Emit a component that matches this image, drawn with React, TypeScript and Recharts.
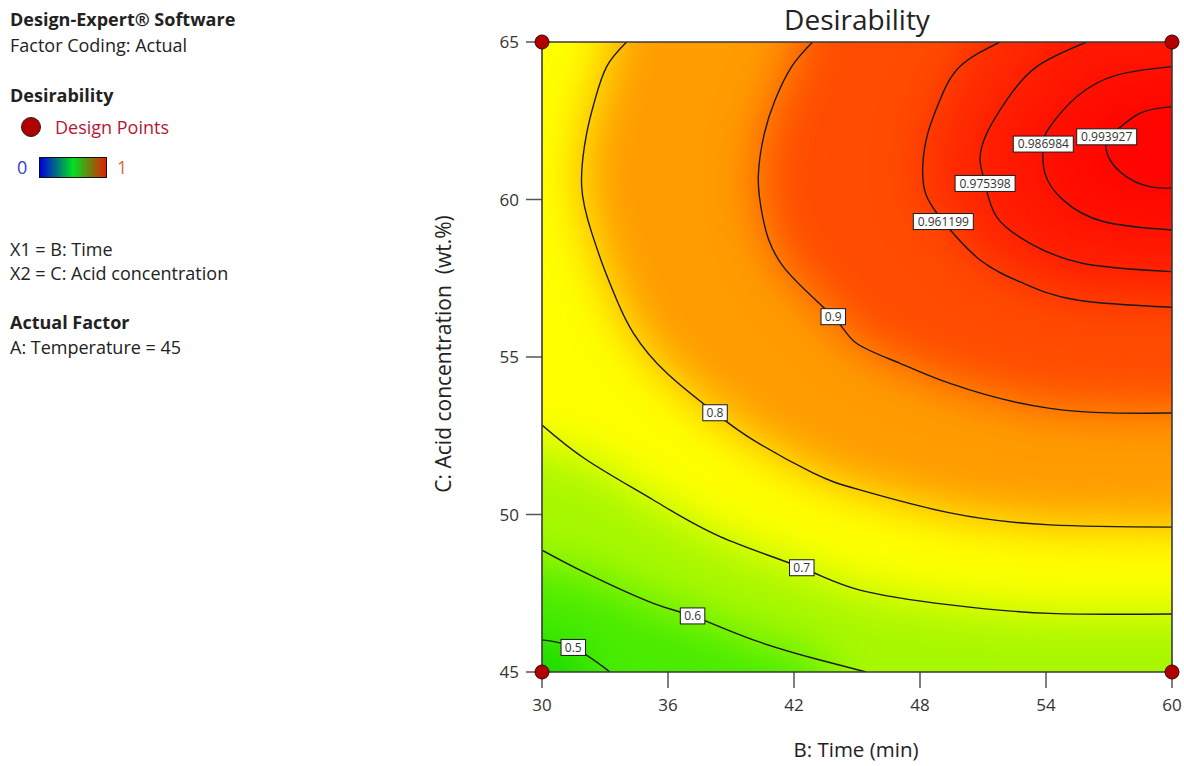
import React from "react";
import { ComposedChart, Scatter, XAxis, YAxis, Curve } from "recharts";

type Pt = { x: number; y: number };

const FONT = "'Open Sans', 'Noto Sans', sans-serif";

// B: Time (min) and C: Acid concentration (wt.%)
const timeTicks = [30, 36, 42, 48, 54, 60];
const acidTicks = [45, 50, 55, 60, 65];

const designPoints: Pt[] = [
  { x: 30, y: 45 },
  { x: 30, y: 65 },
  { x: 60, y: 45 },
  { x: 60, y: 65 },
];

const contourLevels = [0.5, 0.6, 0.7, 0.8, 0.9, 0.961199, 0.975398, 0.986984, 0.993927];

// traced contour lines of desirability (time, acid)
const c050: Pt[] = [
  { x: 30, y: 46.02 }, { x: 31.49, y: 45.78 }, { x: 33.24, y: 45 },
];
const c060: Pt[] = [
  { x: 30, y: 48.87 }, { x: 32.13, y: 48.13 }, { x: 35.3, y: 47.18 }, { x: 37.17, y: 46.78 },
  { x: 40.06, y: 46.02 }, { x: 43.24, y: 45.38 }, { x: 45.43, y: 45 },
];
const c070: Pt[] = [
  { x: 30, y: 52.84 }, { x: 32.13, y: 51.73 }, { x: 35.3, y: 50.46 }, { x: 38.48, y: 49.3 },
  { x: 42.37, y: 48.31 }, { x: 45.14, y: 47.6 }, { x: 49.43, y: 47.13 }, { x: 54.19, y: 46.86 },
  { x: 60, y: 46.84 },
];
const c080: Pt[] = [
  { x: 34.03, y: 65 }, { x: 33.08, y: 64.22 }, { x: 32.52, y: 63.16 }, { x: 32.13, y: 62.11 },
  { x: 31.89, y: 60.41 }, { x: 32.37, y: 58.94 }, { x: 32.92, y: 57.87 }, { x: 33.56, y: 56.81 },
  { x: 34.35, y: 55.76 }, { x: 35.94, y: 54.49 }, { x: 38.24, y: 53.23 }, { x: 40.05, y: 52.37 },
  { x: 42.9, y: 51.32 }, { x: 45.14, y: 50.78 }, { x: 49.43, y: 50.05 }, { x: 54.19, y: 49.67 },
  { x: 60, y: 49.6 },
];
const c090: Pt[] = [
  { x: 42.89, y: 65 }, { x: 41.89, y: 64.22 }, { x: 41.1, y: 63.16 }, { x: 40.59, y: 62.1 },
  { x: 40.3, y: 60.72 }, { x: 40.51, y: 59.45 }, { x: 41.49, y: 57.87 }, { x: 43.87, y: 56.28 },
  { x: 44.99, y: 55.43 }, { x: 47.05, y: 54.8 }, { x: 49.43, y: 54.16 }, { x: 54.19, y: 53.37 },
  { x: 60, y: 53.22 },
];
const c0961: Pt[] = [
  { x: 51.81, y: 65 }, { x: 49.9, y: 64.22 }, { x: 48.95, y: 63.16 }, { x: 48.37, y: 62.1 },
  { x: 48.13, y: 61.04 }, { x: 48.29, y: 60.14 }, { x: 49.11, y: 59.3 }, { x: 50.86, y: 58.08 },
  { x: 52.92, y: 57.34 }, { x: 55.46, y: 56.81 }, { x: 60, y: 56.58 },
];
const c0975: Pt[] = [
  { x: 55.94, y: 65 }, { x: 53.56, y: 64.22 }, { x: 52.13, y: 63.16 }, { x: 51.18, y: 62.1 },
  { x: 50.86, y: 61.25 }, { x: 51.1, y: 60.51 }, { x: 51.65, y: 59.45 }, { x: 53.24, y: 58.61 },
  { x: 55.78, y: 57.97 }, { x: 60, y: 57.71 },
];
const c0987: Pt[] = [
  { x: 60, y: 64.22 }, { x: 57.37, y: 63.95 }, { x: 55.46, y: 63.26 }, { x: 54.19, y: 62.31 },
  { x: 53.87, y: 61.76 }, { x: 53.95, y: 60.83 }, { x: 54.82, y: 59.98 }, { x: 56.73, y: 59.3 },
  { x: 60, y: 59.03 },
];
const c0994: Pt[] = [
  { x: 60, y: 62.95 }, { x: 58.48, y: 62.74 }, { x: 57.37, y: 62.21 }, { x: 56.89, y: 61.99 },
  { x: 56.97, y: 61.36 }, { x: 57.84, y: 60.72 }, { x: 58.95, y: 60.41 }, { x: 60, y: 60.36 },
];

// where each level's value tag sits on its line
const labelSpots: Pt[] = [
  { x: 31.49, y: 45.78 }, { x: 37.17, y: 46.78 }, { x: 42.37, y: 48.31 }, { x: 38.24, y: 53.23 },
  { x: 43.87, y: 56.28 }, { x: 49.11, y: 59.3 }, { x: 51.1, y: 60.51 }, { x: 53.87, y: 61.76 },
  { x: 56.89, y: 61.99 },
];

const contourPaths = [c050, c060, c070, c080, c090, c0961, c0975, c0987, c0994];

// plot corners used to close each "above level" region
const cornerTail: Pt[][] = [
  [{ x: 60, y: 45 }, { x: 60, y: 65 }, { x: 30, y: 65 }],
  [{ x: 60, y: 45 }, { x: 60, y: 65 }, { x: 30, y: 65 }],
  [{ x: 60, y: 65 }, { x: 30, y: 65 }],
  [{ x: 60, y: 65 }],
  [{ x: 60, y: 65 }],
  [{ x: 60, y: 65 }],
  [{ x: 60, y: 65 }],
  [],
  [],
];
const fullPlot: Pt[] = [{ x: 30, y: 45 }, { x: 60, y: 45 }, { x: 60, y: 65 }, { x: 30, y: 65 }];

const bandColors = [
  "#14d800", "#4aec00", "#a8f800", "#ffff00", "#ff9c00",
  "#ff4c00", "#ff2a00", "#ff1800", "#ff0a00", "#ff0200",
];

const regions: Pt[][] = [fullPlot, ...contourPaths.map((p, i) => [...p, ...cornerTail[i]])];

const labelData = contourLevels.map((lv, i) => ({ ...labelSpots[i], text: String(lv) }));

const EDGE = 90;
const None = () => <g />;

// filled region, pushed past the plot edge so the blur keeps full colour at the border
const softRegion = (pts: Pt[], color: string) => (props: any) => {
  const moved = (props.points || []).map((p: Pt, i: number) => {
    const d = pts[i];
    return {
      x: p.x + (d.x === 30 ? -EDGE : d.x === 60 ? EDGE : 0),
      y: p.y + (d.y === 65 ? -EDGE : d.y === 45 ? EDGE : 0),
    };
  });
  return (
    <g filter="url(#bandSoft)">
      <Curve points={moved} type="linear" fill={color} stroke="none" />
    </g>
  );
};

const LevelTag = (props: any) => {
  const { cx, cy, payload } = props;
  const t: string = payload.text;
  const digits = t.replace(".", "").length;
  const w = digits * 7.1 + 3.3 + 7;
  return (
    <g>
      <rect x={cx - w / 2} y={cy - 8} width={w} height={16} fill="#fff" stroke="#1a1a1a" strokeWidth={1} />
      <text x={cx} y={cy} dy="0.36em" textAnchor="middle" fontSize={12} fill="#333" fontFamily={FONT}>
        {t}
      </text>
    </g>
  );
};

const DesignDot = (props: any) => (
  <circle cx={props.cx} cy={props.cy} r={7} fill="#b00000" stroke="#3a0000" strokeWidth={1} />
);

const AcidTitle = (props: any) => {
  const vb = props.viewBox;
  const x = vb.x + 23;
  const y = vb.y + vb.height / 2 - 3;
  return (
    <text
      transform={`translate(${x},${y}) rotate(-90)`}
      textAnchor="middle"
      dy="0.35em"
      fontSize={21}
      fill="#222"
      fontFamily={FONT}
      style={{ whiteSpace: "pre" }}
    >
      {"C: Acid concentration  (wt.%)"}
    </text>
  );
};

const TimeTitle = (props: any) => {
  const vb = props.viewBox;
  return (
    <text x={vb.x + vb.width / 2 - 1} y={vb.y + 78} dy="0.35em" textAnchor="middle" fontSize={20.5} fill="#222" fontFamily={FONT}>
      B: Time (min)
    </text>
  );
};

const line = (mid: number, children: React.ReactNode, extra: React.CSSProperties = {}) => (
  <div style={{ position: "absolute", left: 10, top: mid - 13, fontSize: 18, lineHeight: "24px", color: "#222", whiteSpace: "nowrap", ...extra }}>
    {children}
  </div>
);

function SidePanel() {
  return (
    <>
      {line(20, "Design-Expert® Software", { fontWeight: 700 })}
      {line(46, "Factor Coding: Actual")}
      {line(96, "Desirability", { fontWeight: 700 })}
      <div style={{ position: "absolute", left: 21, top: 117, width: 18, height: 18, borderRadius: "50%", background: "#b00000", border: "1.5px solid #222" }} />
      {line(128, "Design Points", { left: 55, color: "#b3173a" })}
      {line(168, "0", { left: 17, color: "#3040d0" })}
      <div style={{ position: "absolute", left: 39, top: 157, width: 66, height: 19, border: "1px solid #111", background: "linear-gradient(to right, #0000e0, #00e020 50%, #e02000)" }} />
      {line(168, "1", { left: 117, color: "#e06040" })}
      {line(250, "X1 = B: Time")}
      {line(274, "X2 = C: Acid concentration")}
      {line(323, "Actual Factor", { fontWeight: 700 })}
      {line(348, "A: Temperature = 45")}
    </>
  );
}

export default function App() {
  const tick = { fontSize: 17, fill: "#333", fontFamily: FONT };
  return (
    <div style={{ position: "absolute", left: 0, top: 0, width: 1184, height: 766, background: "#fff", fontFamily: FONT }}>
      <SidePanel />
      <div style={{ position: "absolute", left: 657, width: 400, top: 0, textAlign: "center", fontSize: 28, lineHeight: "38px", color: "#222" }}>
        Desirability
      </div>
      <div style={{ position: "absolute", left: 0, top: 0 }}>
        <ComposedChart width={1184} height={766} margin={{ top: 42, right: 12, bottom: 0, left: 421 }}>
          <defs>
            <filter id="bandSoft" x="-50%" y="-50%" width="200%" height="200%" colorInterpolationFilters="sRGB">
              <feGaussianBlur stdDeviation={24} />
            </filter>
          </defs>
          <XAxis xAxisId="f" type="number" dataKey="x" domain={[30, 60]} height={0} hide />
          <YAxis yAxisId="f" type="number" dataKey="y" domain={[45, 65]} width={0} hide />
          <XAxis
            xAxisId="m"
            type="number"
            dataKey="x"
            domain={[30, 60]}
            ticks={timeTicks}
            allowDataOverflow
            height={94}
            tickSize={16}
            tickMargin={11}
            axisLine={false}
            tickLine={{ stroke: "#555", strokeWidth: 1.5 }}
            tick={tick}
            label={<TimeTitle />}
          />
          <YAxis
            yAxisId="m"
            type="number"
            dataKey="y"
            domain={[45, 65]}
            ticks={acidTicks}
            allowDataOverflow
            width={121}
            tickSize={16}
            tickMargin={7}
            axisLine={false}
            tickLine={{ stroke: "#555", strokeWidth: 1.5 }}
            tick={tick}
            label={<AcidTitle />}
          />

          {regions.map((pts, i) => (
            <Scatter
              key={`band-${i}`}
              xAxisId="m"
              yAxisId="m"
              data={pts}
              shape={None}
              line={softRegion(pts, bandColors[i])}
              legendType="none"
              isAnimationActive={false}
            />
          ))}

          {contourPaths.map((pts, i) => (
            <Scatter
              key={`level-${i}`}
              xAxisId="m"
              yAxisId="m"
              data={pts}
              shape={None}
              line={{ stroke: "#1a1a1a", strokeWidth: 1.4, fill: "none" }}
              lineJointType="natural"
              legendType="none"
              isAnimationActive={false}
            />
          ))}

          <Scatter
            xAxisId="f"
            yAxisId="f"
            data={[...fullPlot, fullPlot[0]]}
            shape={None}
            line={{ stroke: "#3a3a3a", strokeWidth: 1.6, fill: "none" }}
            lineJointType="linear"
            legendType="none"
            isAnimationActive={false}
          />

          <Scatter xAxisId="f" yAxisId="f" data={labelData} shape={LevelTag} legendType="none" isAnimationActive={false} />
          <Scatter xAxisId="f" yAxisId="f" data={designPoints} shape={DesignDot} legendType="none" isAnimationActive={false} />
        </ComposedChart>
      </div>
    </div>
  );
}
